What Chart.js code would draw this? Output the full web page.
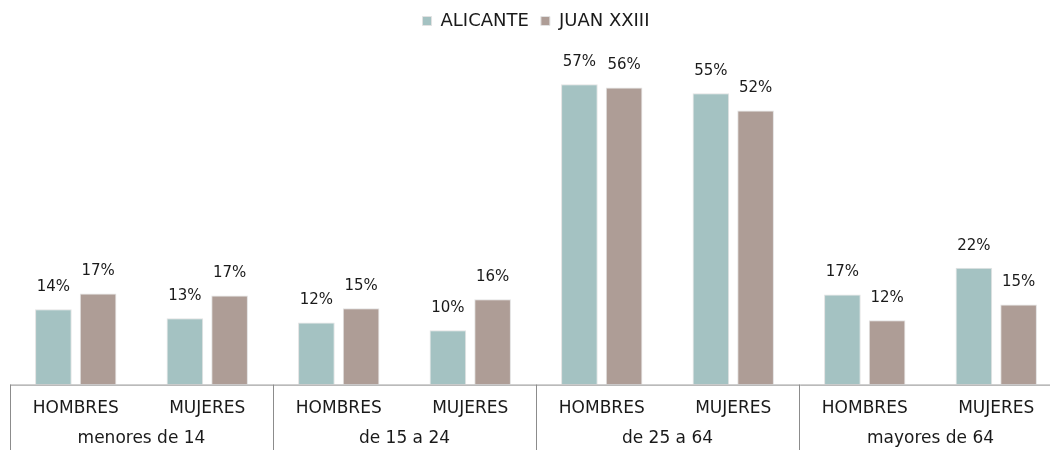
<!DOCTYPE html>
<html>
<head>
<meta charset="utf-8">
<script src="https://cdn.jsdelivr.net/npm/chart.js@4"></script>
<style>
html,body{margin:0;padding:0;background:#fff;overflow:hidden}
#wrap{width:1064px;height:450px}
</style>
</head>
<body>
<div id="wrap"><canvas id="chart_pob"></canvas></div>
<script>
// data
var sexos = ["HOMBRES", "MUJERES", "HOMBRES", "MUJERES", "HOMBRES", "MUJERES", "HOMBRES", "MUJERES"]
var grupos = ["menores de 14", "de 15 a 24", "de 25 a 64", "mayores de 64"]
var alicante = [14.3, 12.6, 11.8, 10.3, 57.0, 55.3, 17.1, 22.2]
var juan23 = [17.3, 16.9, 14.5, 16.2, 56.4, 52.0, 12.2, 15.2]
var etiqAlicante = ["14%", "13%", "12%", "10%", "57%", "55%", "17%", "22%"]
var etiqJuan = ["17%", "17%", "15%", "16%", "56%", "52%", "12%", "15%"]

var fuente = "'DejaVu Sans', sans-serif"
var colorTexto = "#1a1a1a"

// percent labels above every bar
var etiquetas = {
    id: 'etiquetas',
    afterDatasetsDraw: function(chart) {
        var ctx = chart.ctx
        var textos = [etiqAlicante, etiqJuan]
        ctx.save()
        ctx.font = "15px " + fuente
        ctx.fillStyle = colorTexto
        ctx.textAlign = "center"
        ctx.textBaseline = "middle"
        chart.data.datasets.forEach(function(ds, d) {
            chart.getDatasetMeta(d).data.forEach(function(bar, i) {
                ctx.fillText(textos[d][i], bar.x, bar.y - 22)
            })
        })
        ctx.restore()
    }
}

// axis line, group separators and the age group row under the x labels
var separadores = {
    id: 'separadores',
    afterDraw: function(chart) {
        var ctx = chart.ctx
        var x = chart.scales.x
        var abajo = chart.chartArea.bottom
        ctx.save()
        ctx.strokeStyle = "#8c8c8c"
        ctx.lineWidth = 1
        ctx.beginPath()
        ctx.moveTo(x.getPixelForValue(-0.5), abajo + 0.5)
        ctx.lineTo(chart.width, abajo + 0.5)
        for (var g = 0; g <= grupos.length; g++) {
            var px = Math.round(x.getPixelForValue(g * 2 - 0.5)) + 0.5
            ctx.moveTo(px, abajo)
            ctx.lineTo(px, chart.height)
        }
        ctx.stroke()

        ctx.font = "17px " + fuente
        ctx.fillStyle = colorTexto
        ctx.textAlign = "center"
        ctx.textBaseline = "middle"
        grupos.forEach(function(nombre, g) {
            ctx.fillText(nombre, x.getPixelForValue(g * 2 + 0.5), abajo + 54)
        })
        ctx.restore()
    }
}

var ctx = document.getElementById('chart_pob').getContext('2d')
var grafico = new Chart(ctx, {
    type: 'bar',
    data: {
        labels: sexos,
        datasets: [{
            label: 'ALICANTE',
            data: alicante,
            backgroundColor: '#a4c2c2',
            borderColor: '#e2e2e2',
            borderWidth: 1,
            categoryPercentage: 0.68,
            barPercentage: 0.82
        }, {
            label: 'JUAN XXIII',
            data: juan23,
            backgroundColor: '#ae9d96',
            borderColor: '#e2e2e2',
            borderWidth: 1,
            categoryPercentage: 0.68,
            barPercentage: 0.82
        }]
    },
    options: {
        responsive: true,
        maintainAspectRatio: false,
        animation: false,
        layout: {padding: {left: 10, right: 2, top: 0, bottom: 17}},
        plugins: {
            legend: {
                position: 'top',
                labels: {
                    boxWidth: 9,
                    boxHeight: 9,
                    padding: 12,
                    color: colorTexto,
                    font: {family: fuente, size: 18}
                }
            },
            tooltip: {enabled: false}
        },
        scales: {
            y: {
                display: false,
                min: 0,
                max: 65.4
            },
            x: {
                grid: {display: false, drawTicks: false},
                border: {display: false},
                ticks: {
                    color: colorTexto,
                    padding: 14,
                    font: {family: fuente, size: 17}
                }
            }
        }
    },
    plugins: [etiquetas, separadores]
})
</script>
</body>
</html>
